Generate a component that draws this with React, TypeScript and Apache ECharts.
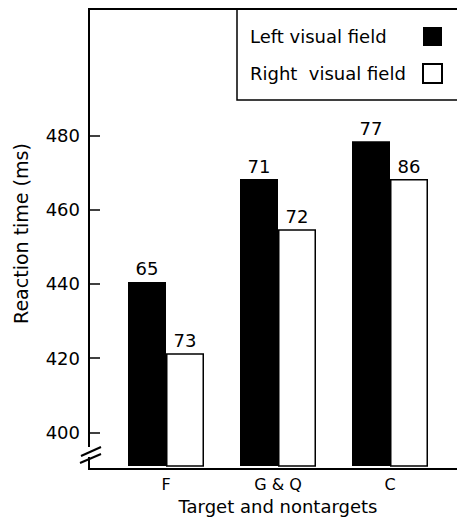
import React, { useEffect, useRef } from "react";
import * as echarts from "echarts";

const categories = ["F", "G & Q", "C"];
const leftRT = [440.5, 468.2, 478.4];
const rightRT = [421.3, 454.7, 468.2];
const leftErrors = [65, 71, 77];
const rightErrors = [73, 72, 86];
const yTicks = [400, 420, 440, 460, 480];

const FONT = "DejaVu Sans";

export default function App() {
  const ref = useRef<HTMLDivElement>(null);
  useEffect(() => {
    if (!ref.current) return;
    const chart = echarts.init(ref.current, null, { renderer: "svg" });
    const black = "#000";
    chart.setOption({
      animation: false,
      backgroundColor: "#fff",
      textStyle: { fontFamily: FONT, color: black },
      grid: { left: 110, right: 11, top: 9, bottom: 51 },
      legend: {
        orient: "vertical",
        left: 250,
        top: 27,
        align: "right",
        itemWidth: 19,
        itemHeight: 19,
        itemGap: 17,
        padding: 0,
        icon: "rect",
        selectedMode: false,
        formatter: (name: string) => "{t|" + name + "}",
        textStyle: {
          fontFamily: FONT,
          fontSize: 18,
          color: black,
          rich: { t: { width: 168, align: "left", fontFamily: FONT, fontSize: 18, color: black } },
        },
        data: ["Left visual field", "Right  visual field"],
      },
      xAxis: {
        type: "category",
        data: categories,
        axisLine: { show: false },
        axisTick: { show: false },
        axisLabel: { fontFamily: FONT, fontSize: 16, color: black, margin: 10 },
        name: "Target and nontargets",
        nameLocation: "middle",
        nameGap: 30,
        nameTextStyle: { fontFamily: FONT, fontSize: 18, color: black },
      },
      yAxis: {
        type: "value",
        min: 390.9,
        max: 514,
        offset: 22,
        splitLine: { show: false },
        axisLine: { show: false },
        axisTick: {
          show: true,
          inside: true,
          length: 12,
          lineStyle: { color: black, width: 1.5 },
          customValues: yTicks,
        },
        axisLabel: {
          fontFamily: FONT,
          fontSize: 18,
          color: black,
          margin: 8,
          customValues: yTicks,
        },
        name: "Reaction time (ms)",
        nameLocation: "middle",
        nameGap: 58,
        nameTextStyle: { fontFamily: FONT, fontSize: 19, color: black, padding: [0, 0, 0, 8] },
      },
      graphic: [
        {
          type: "rect",
          z: 0,
          shape: { x: 237, y: 9, width: 240, height: 91 },
          style: { fill: "#fff", stroke: black, lineWidth: 1.5 },
        },
        { type: "line", z: 10, shape: { x1: 88, y1: 9, x2: 457, y2: 9 }, style: { stroke: black, lineWidth: 2 } },
        { type: "line", z: 10, shape: { x1: 89, y1: 469, x2: 457, y2: 469 }, style: { stroke: black, lineWidth: 2 } },
        { type: "line", z: 10, shape: { x1: 89, y1: 8, x2: 89, y2: 447 }, style: { stroke: black, lineWidth: 2 } },
        { type: "line", z: 10, shape: { x1: 89, y1: 457, x2: 89, y2: 470 }, style: { stroke: black, lineWidth: 2 } },
        { type: "line", z: 10, shape: { x1: 81, y1: 456, x2: 101, y2: 447 }, style: { stroke: black, lineWidth: 2 } },
        { type: "line", z: 10, shape: { x1: 80, y1: 463, x2: 101, y2: 454 }, style: { stroke: black, lineWidth: 2 } },
      ],
      series: [
        {
          type: "bar",
          name: "Left visual field",
          data: leftRT,
          barWidth: 38,
          barGap: "0%",
          itemStyle: { color: black },
          label: {
            show: true,
            position: "top",
            distance: 4,
            fontFamily: FONT,
            fontSize: 18,
            color: black,
            formatter: (p: any) => String(leftErrors[p.dataIndex]),
          },
        },
        {
          type: "bar",
          name: "Right  visual field",
          data: rightRT,
          barWidth: 38,
          barGap: "0%",
          itemStyle: { color: "#fff", borderColor: black, borderWidth: 1.5 },
          label: {
            show: true,
            position: "top",
            distance: 4,
            fontFamily: FONT,
            fontSize: 18,
            color: black,
            formatter: (p: any) => String(rightErrors[p.dataIndex]),
          },
        },
      ],
    });
    return () => chart.dispose();
  }, []);
  return (
    <div
      ref={ref}
      style={{ position: "fixed", left: 0, top: 0, width: 457, height: 520 }}
    />
  );
}
